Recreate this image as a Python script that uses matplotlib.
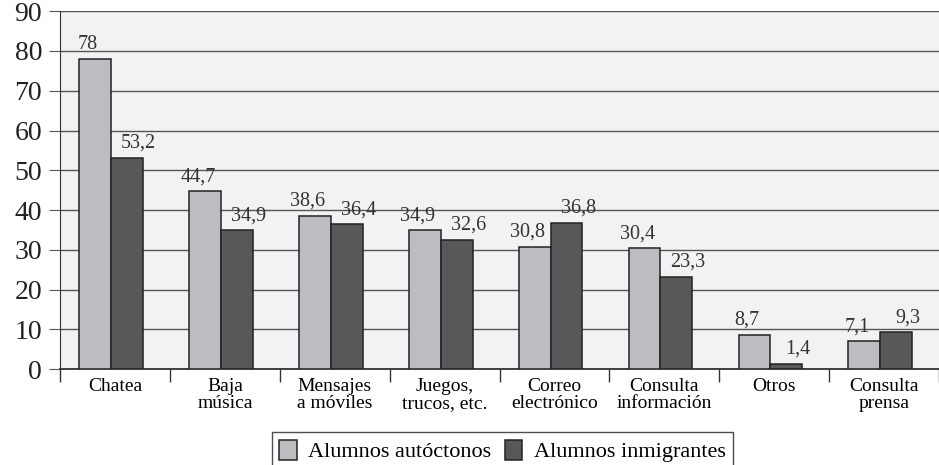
import numpy as np
import matplotlib.pyplot as plt
from matplotlib.ticker import FixedLocator

plt.rcParams['font.family'] = ['Liberation Serif', 'DejaVu Serif']

categorias = ["Chatea", "Baja\nmúsica", "Mensajes\na móviles", "Juegos,\ntrucos, etc.",
              "Correo\nelectrónico", "Consulta\ninformación", "Otros", "Consulta\nprensa"]
autoctonos = [78, 44.7, 38.6, 34.9, 30.8, 30.4, 8.7, 7.1]
inmigrantes = [53.2, 34.9, 36.4, 32.6, 36.8, 23.3, 1.4, 9.3]
series = ["Alumnos autóctonos", "Alumnos inmigrantes"]

fig = plt.figure(figsize=(9.39, 4.65), dpi=100)
ax = fig.add_axes([0.064, 0.206, 0.936, 0.770])
ax.set_facecolor('#f1f2f4')

x = np.arange(len(categorias))
w = 0.29
b1 = ax.bar(x - w/2 - 0.035, autoctonos, w, color='#bcbdc1', edgecolor='#222222', linewidth=1.1,
            label=series[0], zorder=3)
b2 = ax.bar(x + w/2 - 0.035, inmigrantes, w, color='#57585a', edgecolor='#222222', linewidth=1.1,
            label=series[1], zorder=3)

def fmt(v):
    return ("%g" % v).replace('.', ',')

for xi, v in zip(x, autoctonos):
    ax.text(xi - w/2 - 0.1, v + 1.2, fmt(v), ha='center', va='bottom', fontsize=14.5, color='#333333')
for xi, v in zip(x, inmigrantes):
    ax.text(xi + w/2 + 0.07, v + 1.2, fmt(v), ha='center', va='bottom', fontsize=14.5, color='#333333')

ax.set_xlim(-0.5, len(categorias) - 0.5)
ax.set_ylim(0, 90)
ax.set_yticks(range(0, 91, 10))
ax.yaxis.grid(True, color='#555555', linewidth=1.0, zorder=0)
ax.tick_params(axis='y', length=8, color='#555555', labelsize=20, pad=5, labelcolor='#222222')

ax.set_xticks(x)
ax.set_xticklabels(categorias, fontsize=14, linespacing=1.05)
ax.xaxis.set_minor_locator(FixedLocator(np.arange(-0.5, len(categorias), 1.0)))
ax.tick_params(axis='x', which='major', length=0, pad=6)
ax.tick_params(axis='x', which='minor', length=9, color='#333333', width=1)

for s in ['top', 'right']:
    ax.spines[s].set_visible(False)
ax.spines['left'].set_color('#333333')
ax.spines['bottom'].set_color('#333333')
ax.spines['bottom'].set_linewidth(1.3)

leg = fig.legend(handles=[b1, b2], loc='lower center', bbox_to_anchor=(0.535, -0.035), ncol=2,
                 frameon=True, fancybox=False, fontsize=16, handlelength=0.8, handleheight=1.0,
                 handletextpad=0.5, columnspacing=0.6, borderpad=0.35)
leg.get_frame().set_edgecolor('#222222')
leg.get_frame().set_linewidth(1.0)

fig.savefig('out.png', dpi=100)
